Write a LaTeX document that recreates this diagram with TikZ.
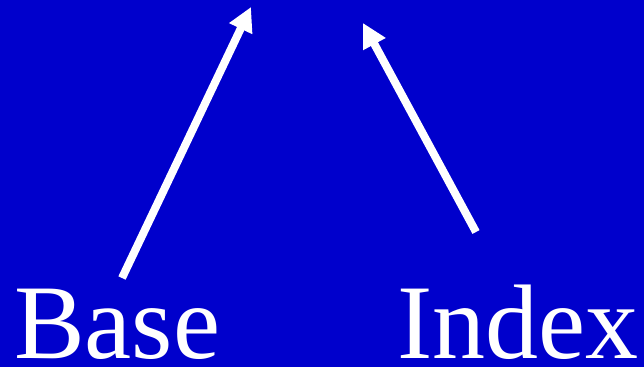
\documentclass[tikz,border=0pt]{standalone}
\usepackage{fontspec}
\setmainfont{Liberation Serif}
\usetikzlibrary{arrows.meta}
\definecolor{slideblue}{HTML}{0000CC}

\begin{document}
\begin{tikzpicture}[x=1pt,y=1pt,>={Triangle[length=24pt,width=24pt]},
  lbl/.style={text=white,inner sep=0pt,anchor=base west,font=\fontsize{106}{106}\selectfont},
  ptr/.style={->,white,line width=8pt}]
\fill[slideblue] (0,0) rectangle (644,367);
\useasboundingbox (0,0) rectangle (644,367);
\node[lbl] (base) at (14,9) {Base};
\node[lbl] (index) at (397,9) {Index};
\coordinate (basetail) at (122,89);
\coordinate (basetip) at (251,360);
\coordinate (indextail) at (476,135);
\coordinate (indextip) at (363,344);
\draw[ptr] (basetail) -- (basetip);
\draw[ptr] (indextail) -- (indextip);
\end{tikzpicture}
\end{document}
